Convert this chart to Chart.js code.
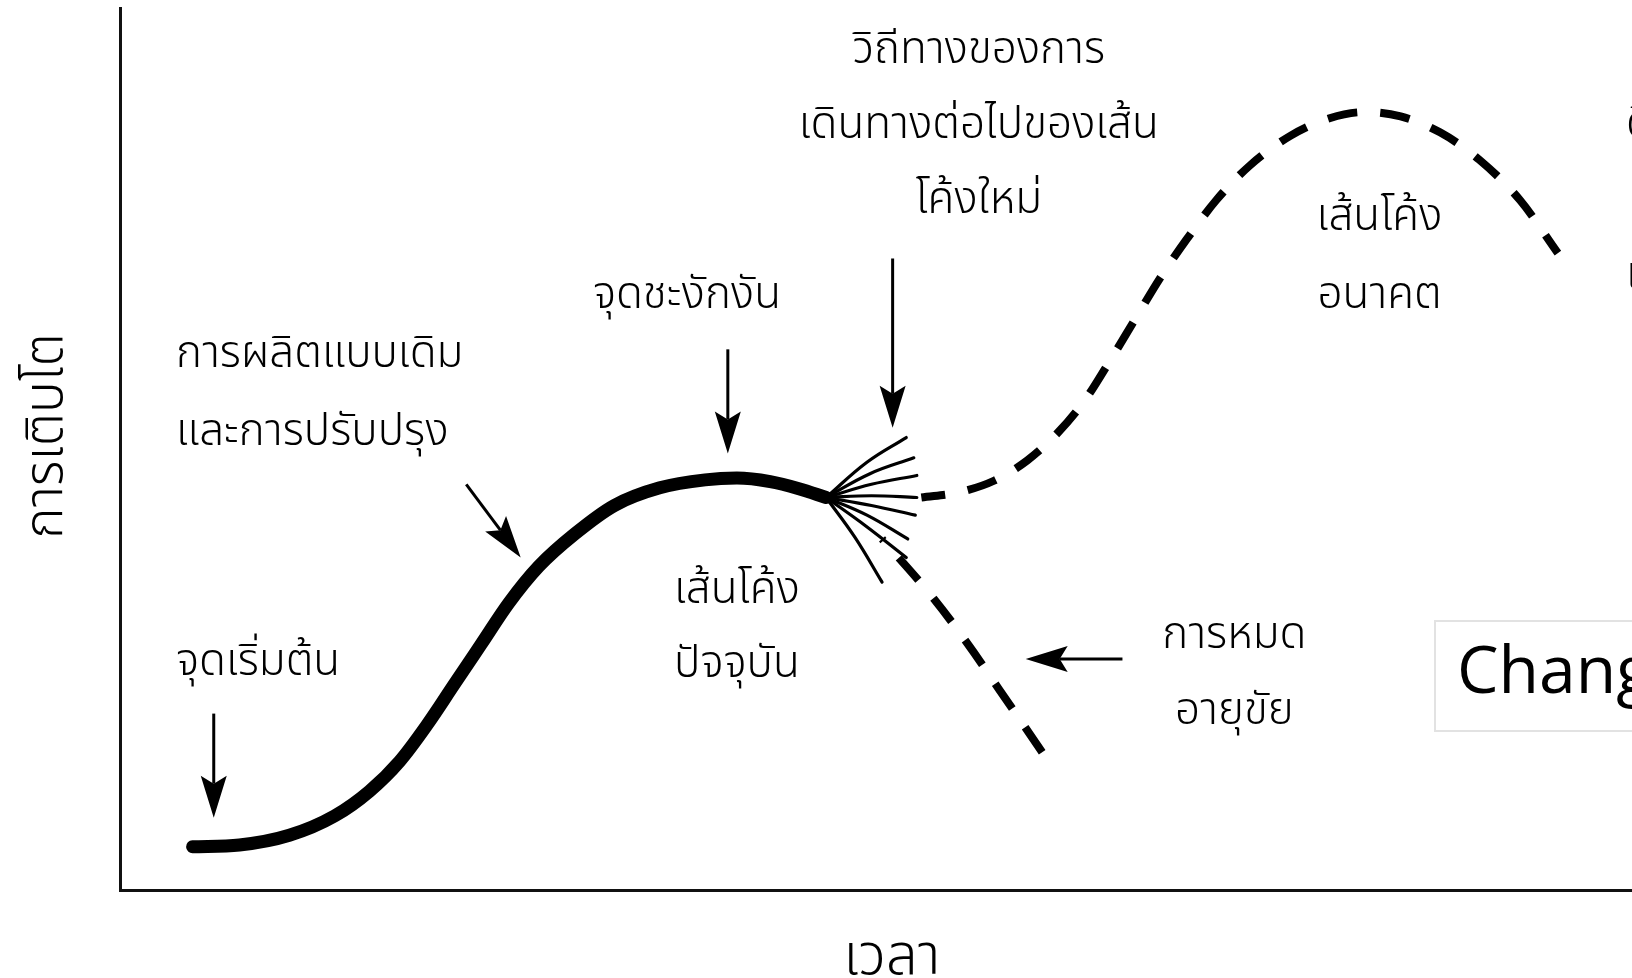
<!DOCTYPE html>
<html lang="th">
<head>
<meta charset="utf-8">
<title>เส้นโค้งการเติบโต</title>
<script src="https://cdn.jsdelivr.net/npm/chart.js@4.4.1/dist/chart.umd.min.js"></script>
<style>
  html, body { margin: 0; padding: 0; background: #fff; }
  #wrap { width: 1632px; height: 978px; }
</style>
</head>
<body>
<div id="wrap"><canvas id="chart"></canvas></div>
<script>
// ข้อมูลเส้นโค้ง (หน่วย: เวลา 0-100, การเติบโต 0-100)
const currentX = [4.8, 7.9, 11.2, 14.2, 16.5, 18.5, 20.3, 22.1, 23.9, 25.7, 27.7, 30.1, 32.7, 35.7, 38.7, 40.8, 43.0, 44.9, 46.7];
const currentY = [4.9, 5.1, 6.2, 8.4, 11.2, 14.6, 18.7, 23.3, 27.9, 32.5, 36.7, 40.4, 43.6, 45.6, 46.5, 46.7, 46.3, 45.5, 44.5];

const futureX = [53.0, 55.5, 57.8, 60.0, 62.0, 63.8, 65.4, 67.1, 68.8, 70.6, 72.5, 74.7, 77.4, 80.0, 82.3, 84.7, 87.3, 89.9, 92.6, 95.1];
const futureY = [44.5, 45.1, 46.4, 48.7, 51.8, 55.5, 59.8, 64.6, 69.4, 73.9, 78.2, 82.1, 85.5, 87.5, 88.2, 87.7, 85.9, 82.8, 78.2, 72.2];

const declineX = [50.4, 53.5, 55.9, 58.2, 61.0];
const declineY = [39.8, 33.7, 28.3, 22.6, 15.6];

// เส้นแตกแขนง (จุดเริ่ม กลาง ปลาย)
const fanStart = [46.7, 44.5];
const fanMidX = [49.4, 49.6, 49.7, 49.7, 49.7, 49.4, 49.3, 48.6];
const fanMidY = [48.5, 47.2, 46.0, 44.7, 43.6, 42.5, 41.3, 40.0];
const fanEndX = [52.0, 52.5, 52.7, 52.7, 52.6, 52.1, 52.0, 50.4];
const fanEndY = [51.3, 49.0, 47.0, 44.5, 42.5, 39.8, 37.7, 34.9];

const xTitle = 'เวลา';
const yTitle = 'การเติบโต';

const thaiFont = "'Noto Sans Thai', 'Noto Sans Thai UI', 'Leelawadee UI', Tahoma, 'Noto Sans', sans-serif";

// ข้อความกำกับ
const labels = [
    { text: 'วิถีทางของการ', x: 56.8, y: 94.8, align: 'center' },
    { text: 'เดินทางต่อไปของเส้น', x: 56.8, y: 86.3, align: 'center' },
    { text: 'โค้งใหม่', x: 56.8, y: 77.8, align: 'center' },
    { text: 'จุดชะงักงัน', x: 37.5, y: 67.0, align: 'center' },
    { text: 'การผลิตแบบเดิม', x: 3.7, y: 60.3, align: 'left' },
    { text: 'และการปรับปรุง', x: 3.7, y: 51.5, align: 'left' },
    { text: 'จุดเริ่มต้น', x: 3.7, y: 25.4, align: 'left' },
    { text: 'เส้นโค้ง', x: 40.8, y: 33.6, align: 'center' },
    { text: 'ปัจจุบัน', x: 40.8, y: 25.2, align: 'center' },
    { text: 'เส้นโค้ง', x: 83.3, y: 75.8, align: 'center' },
    { text: 'อนาคต', x: 83.3, y: 67.0, align: 'center' },
    { text: 'การหมด', x: 73.7, y: 28.4, align: 'center' },
    { text: 'อายุขัย', x: 73.7, y: 19.8, align: 'center' },
    { text: 'ดิสรัปชัน', x: 99.6, y: 86.4, align: 'left' },
    { text: 'เทคโนโลยี', x: 99.6, y: 69.3, align: 'left' }
];

// ลูกศร (จาก -> ปลาย)
const arrows = [
    { x1: 6.2, y1: 20.0, x2: 6.2, y2: 8.2 },
    { x1: 22.9, y1: 46.0, x2: 26.5, y2: 37.7 },
    { x1: 40.2, y1: 61.3, x2: 40.2, y2: 49.5 },
    { x1: 51.1, y1: 71.6, x2: 51.1, y2: 52.4 },
    { x1: 66.3, y1: 26.2, x2: 59.9, y2: 26.2 }
];

function pts(xs, ys) {
    return xs.map((x, i) => ({ x: x, y: ys[i] }));
}

const datasets = [];

datasets.push({
    data: pts(currentX, currentY),
    borderColor: '#000',
    borderWidth: 13,
    borderCapStyle: 'round',
    borderJoinStyle: 'round',
    cubicInterpolationMode: 'monotone'
});

fanEndX.forEach((ex, i) => {
    datasets.push({
        data: [{ x: fanStart[0], y: fanStart[1] }, { x: fanMidX[i], y: fanMidY[i] }, { x: ex, y: fanEndY[i] }],
        borderColor: '#000',
        borderWidth: 3.2,
        borderCapStyle: 'round',
        tension: 0.4
    });
});

datasets.push({
    data: pts(futureX, futureY),
    borderColor: '#000',
    borderWidth: 8,
    borderDash: [30, 23],
    borderDashOffset: 6,
    cubicInterpolationMode: 'monotone'
});

datasets.push({
    data: pts(declineX, declineY),
    borderColor: '#000',
    borderWidth: 8,
    borderDash: [30, 23],
    borderDashOffset: 28,
    tension: 0.4
});

function drawArrow(ctx, x1, y1, x2, y2) {
    const ang = Math.atan2(y2 - y1, x2 - x1);
    const headLen = 42, headW = 13, notch = 8;
    const bx = x2 - Math.cos(ang) * (headLen - notch);
    const by = y2 - Math.sin(ang) * (headLen - notch);
    ctx.save();
    ctx.strokeStyle = '#000';
    ctx.fillStyle = '#000';
    ctx.lineWidth = 3;
    ctx.beginPath();
    ctx.moveTo(x1, y1);
    ctx.lineTo(bx, by);
    ctx.stroke();
    const cx = x2 - Math.cos(ang) * headLen;
    const cy = y2 - Math.sin(ang) * headLen;
    const px = -Math.sin(ang), py = Math.cos(ang);
    ctx.beginPath();
    ctx.moveTo(x2, y2);
    ctx.lineTo(cx + px * headW, cy + py * headW);
    ctx.lineTo(bx, by);
    ctx.lineTo(cx - px * headW, cy - py * headW);
    ctx.closePath();
    ctx.fill();
    ctx.restore();
}

const annotationPlugin = {
    id: 'annotations',
    afterDraw(chart) {
        const ctx = chart.ctx;
        const xs = chart.scales.x, ys = chart.scales.y;
        const area = chart.chartArea;

        // กล่อง Change
        ctx.save();
        ctx.strokeStyle = '#e2e2e2';
        ctx.lineWidth = 2;
        ctx.strokeRect(1435, 621, 260, 110);
        ctx.fillStyle = '#000';
        ctx.font = "66px 'Open Sans', sans-serif";
        ctx.textAlign = 'left';
        ctx.textBaseline = 'alphabetic';
        ctx.fillText('Change', 1457, 693);
        ctx.restore();

        ctx.save();
        ctx.fillStyle = '#000';
        ctx.font = '300 44px ' + thaiFont;
        ctx.textBaseline = 'middle';
        labels.forEach(l => {
            ctx.textAlign = l.align;
            ctx.fillText(l.text, xs.getPixelForValue(l.x), ys.getPixelForValue(l.y));
        });

        // ชื่อแกน
        ctx.font = '300 56px ' + thaiFont;
        ctx.textAlign = 'center';
        ctx.fillText(xTitle, (area.left + area.right) / 2 + 16, 963);
        ctx.font = '300 53px ' + thaiFont;
        ctx.translate(51, 436);
        ctx.rotate(-Math.PI / 2);
        ctx.fillText(yTitle, 0, 0);
        ctx.restore();

        arrows.forEach(a => {
            drawArrow(ctx,
                xs.getPixelForValue(a.x1), ys.getPixelForValue(a.y1),
                xs.getPixelForValue(a.x2), ys.getPixelForValue(a.y2));
        });
    }
};

new Chart(document.getElementById('chart'), {
    type: 'line',
    data: { datasets: datasets },
    options: {
        responsive: true,
        maintainAspectRatio: false,
        devicePixelRatio: 1,
        animation: false,
        layout: { padding: { left: 120, top: 8, right: 0, bottom: 88 } },
        elements: { point: { radius: 0 } },
        plugins: {
            legend: { display: false },
            tooltip: { enabled: false }
        },
        scales: {
            x: {
                type: 'linear',
                min: 0,
                max: 100,
                ticks: { display: false },
                grid: { display: false, drawTicks: false },
                border: { display: true, color: '#111', width: 3 }
            },
            y: {
                type: 'linear',
                min: 0,
                max: 100,
                ticks: { display: false },
                grid: { display: false, drawTicks: false },
                border: { display: true, color: '#111', width: 3 }
            }
        }
    },
    plugins: [annotationPlugin]
});
</script>
</body>
</html>
